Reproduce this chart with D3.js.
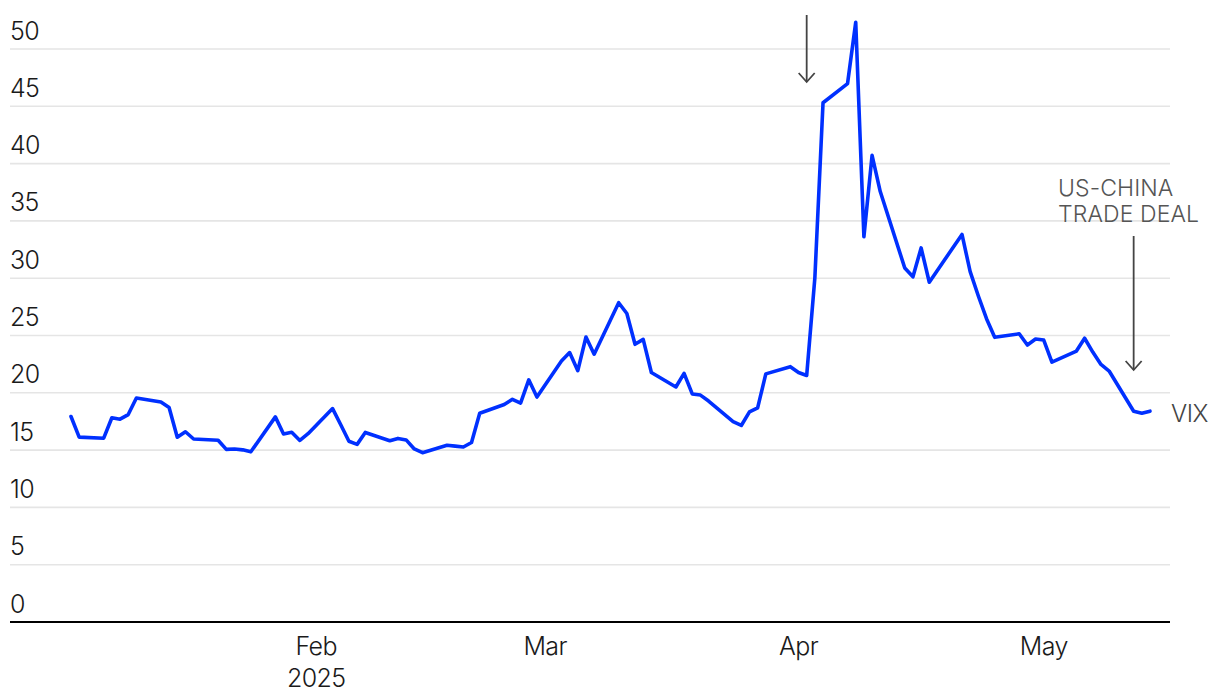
<!DOCTYPE html>
<html>
<head>
<meta charset="utf-8">
<script src="https://cdn.jsdelivr.net/npm/d3@7"></script>
<style>
  html, body { margin: 0; padding: 0; background: #fff; }
  svg { display: block; }
  text { font-family: Inter, "Noto Sans", sans-serif; font-weight: 300; }
</style>
</head>
<body>
<svg id="chart" width="1220" height="700"></svg>
<script>
// ---- data ----
const dates = [
  "2025-01-02","2025-01-03","2025-01-06","2025-01-07","2025-01-08","2025-01-09","2025-01-10",
  "2025-01-13","2025-01-14","2025-01-15","2025-01-16","2025-01-17","2025-01-20","2025-01-21",
  "2025-01-22","2025-01-23","2025-01-24","2025-01-27","2025-01-28","2025-01-29","2025-01-30",
  "2025-01-31","2025-02-03","2025-02-04","2025-02-05","2025-02-06","2025-02-07","2025-02-10",
  "2025-02-11","2025-02-12","2025-02-13","2025-02-14","2025-02-17","2025-02-18","2025-02-19",
  "2025-02-20","2025-02-21","2025-02-24","2025-02-25","2025-02-26","2025-02-27","2025-02-28",
  "2025-03-03","2025-03-04","2025-03-05","2025-03-06","2025-03-07","2025-03-10","2025-03-11",
  "2025-03-12","2025-03-13","2025-03-14","2025-03-17","2025-03-18","2025-03-19","2025-03-20",
  "2025-03-21","2025-03-24","2025-03-25","2025-03-26","2025-03-27","2025-03-28","2025-03-31",
  "2025-04-01","2025-04-02","2025-04-03","2025-04-04","2025-04-07","2025-04-08","2025-04-09",
  "2025-04-10","2025-04-11","2025-04-14","2025-04-15","2025-04-16","2025-04-17","2025-04-21",
  "2025-04-22","2025-04-23","2025-04-24","2025-04-25","2025-04-28","2025-04-29","2025-04-30",
  "2025-05-01","2025-05-02","2025-05-05","2025-05-06","2025-05-07","2025-05-08","2025-05-09",
  "2025-05-12","2025-05-13","2025-05-14"
];
const vix = [
  17.93,16.13,16.04,17.82,17.70,18.10,19.54,
  19.19,18.71,16.12,16.60,15.97,15.86,15.06,
  15.10,15.02,14.85,17.90,16.41,16.56,15.84,
  16.43,18.62,17.21,15.77,15.50,16.54,15.81,
  16.02,15.89,15.10,14.77,15.42,15.35,15.27,
  15.66,18.21,18.98,19.43,19.10,21.13,19.63,
  22.78,23.51,21.93,24.87,23.37,27.86,26.92,
  24.23,24.66,21.77,20.51,21.70,19.90,19.80,
  19.28,17.48,17.15,18.33,18.69,21.65,22.28,
  21.77,21.51,30.02,45.31,46.98,52.33,33.62,
  40.72,37.56,30.89,30.12,32.64,29.65,33.82,
  30.57,28.45,26.47,24.84,25.15,24.17,24.70,
  24.60,22.68,23.64,24.76,23.55,22.48,21.90,
  18.39,18.22,18.40
];
const yTicks = [0,5,10,15,20,25,30,35,40,45,50];
const xTickDates = ["2025-02-01","2025-03-01","2025-04-01","2025-05-01"];
const xTickLabels = ["Feb","Mar","Apr","May"];
const yearLabel = "2025";
const seriesLabel = "VIX";
const annotations = [
  { date: "2025-04-02", lines: [] },
  { date: "2025-05-12", lines: ["US-CHINA","TRADE DEAL"] }
];

// ---- chart ----
const parse = d3.utcParse("%Y-%m-%d");
const data = dates.map((d, i) => ({ date: parse(d), value: vix[i] }));

const svg = d3.select("#chart");
const left = 10, right = 1170;

const x = d3.scaleUtc()
  .domain([parse("2025-01-02"), parse("2025-05-14")])
  .range([71, 1150]);
const y = d3.scaleLinear().domain([0, 50]).range([622, 49]);

// gridlines
svg.append("g").selectAll("line")
  .data(yTicks.filter(t => t > 0))
  .join("line")
  .attr("x1", left).attr("x2", right)
  .attr("y1", d => y(d)).attr("y2", d => y(d))
  .attr("stroke", "#e5e5e5").attr("stroke-width", 1.6);

// y labels
svg.append("g").selectAll("text")
  .data(yTicks)
  .join("text")
  .attr("x", left)
  .attr("y", d => y(d) - 9.5)
  .attr("font-size", 25)
  .attr("fill", "#1a1a1a")
  .attr("letter-spacing", "-0.6")
  .text(d => d);

// baseline axis
svg.append("line")
  .attr("x1", left).attr("x2", right)
  .attr("y1", y(0)).attr("y2", y(0))
  .attr("stroke", "#000").attr("stroke-width", 2);

// x labels
const xg = svg.append("g");
xTickDates.forEach((d, i) => {
  xg.append("text")
    .attr("x", x(parse(d)))
    .attr("y", 655)
    .attr("text-anchor", "middle")
    .attr("font-size", 25)
    .attr("fill", "#1a1a1a")
    .attr("letter-spacing", "-0.6")
    .text(xTickLabels[i]);
});
xg.append("text")
  .attr("x", x(parse(xTickDates[0])))
  .attr("y", 687)
  .attr("text-anchor", "middle")
  .attr("font-size", 25)
  .attr("fill", "#1a1a1a")
  .attr("letter-spacing", "-0.6")
  .text(yearLabel);

// line
const line = d3.line()
  .x(d => x(d.date))
  .y(d => y(d.value))
  .curve(d3.curveLinear);

svg.append("path")
  .datum(data)
  .attr("d", line)
  .attr("fill", "none")
  .attr("stroke", "#0030ff")
  .attr("stroke-width", 3.6)
  .attr("stroke-linejoin", "round")
  .attr("stroke-linecap", "round");

// series label
svg.append("text")
  .attr("x", 1171)
  .attr("y", 422)
  .attr("font-size", 24)
  .attr("fill", "#444")
  .attr("letter-spacing", "-0.5")
  .text(seriesLabel);

// annotations
const arrowColor = "#444";
function arrow(xp, y1, y2) {
  svg.append("line")
    .attr("x1", xp).attr("x2", xp).attr("y1", y1).attr("y2", y2)
    .attr("stroke", arrowColor).attr("stroke-width", 1.8);
  svg.append("path")
    .attr("d", `M${xp - 8},${y2 - 9}L${xp},${y2}L${xp + 8},${y2 - 9}`)
    .attr("fill", "none")
    .attr("stroke", arrowColor).attr("stroke-width", 1.8);
}
arrow(x(parse(annotations[0].date)), 15, 82);
arrow(x(parse(annotations[1].date)), 236, 370);
annotations[1].lines.forEach((t, i) => {
  svg.append("text")
    .attr("x", 1058)
    .attr("y", 196 + i * 25.5)
    .attr("font-size", 23)
    .attr("fill", "#555")
    .attr("letter-spacing", "0.1")
    .text(t);
});
</script>
</body>
</html>
